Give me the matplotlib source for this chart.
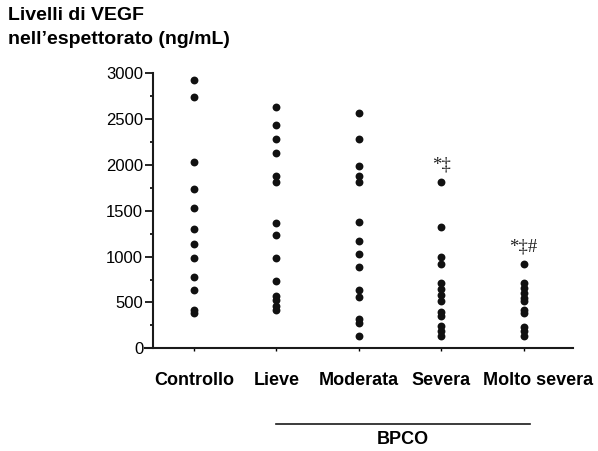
import matplotlib
matplotlib.use("Agg")
import matplotlib.pyplot as plt
from matplotlib.lines import Line2D
from matplotlib.ticker import MultipleLocator
from matplotlib.transforms import ScaledTranslation

plt.rcParams["font.family"] = ["Liberation Sans", "DejaVu Sans"]

CATEGORIES = ["Controllo", "Lieve", "Moderata", "Severa", "Molto severa"]

# VEGF in sputum (ng/mL), one list per group
CONTROLLO = [2930, 2740, 2030, 1740, 1530, 1300, 1135, 985, 775, 636, 420, 385]
LIEVE = [2635, 2435, 2280, 2135, 1885, 1815, 1370, 1240, 985, 730, 570, 530, 460, 420]
MODERATA = [2570, 2280, 1990, 1880, 1815, 1380, 1170, 1030, 885, 640, 560, 325, 275, 135]
SEVERA = [1815, 1320, 995, 925, 710, 645, 580, 520, 395, 350, 240, 190, 130]
MOLTO_SEVERA = [925, 710, 655, 600, 550, 520, 420, 380, 230, 185, 130]
GROUPS = [CONTROLLO, LIEVE, MODERATA, SEVERA, MOLTO_SEVERA]

# significance marks above Severa and Molto severa
MARKS = [(4, 2000, "*\u2021"), (5, 1110, "*\u2021#")]

Y_TICKS = [0, 500, 1000, 1500, 2000, 2500, 3000]

W, H = 598, 451
fig = plt.figure(figsize=(W / 100, H / 100), dpi=100)
ax = fig.add_axes([144.7 / W, 1 - 348.3 / H, 428.3 / W, 275 / H])

for i, vals in enumerate(GROUPS, start=1):
    ax.scatter([i] * len(vals), vals, s=32, color="#111111", linewidths=0, zorder=3)

for x, y, txt in MARKS:
    ax.text(x, y, txt, ha="center", va="center", fontsize=13.5,
            family=["Liberation Serif", "DejaVu Serif"], color="#222222")

ax.set_xlim(0.4, 5.6)
ax.set_ylim(0, 3000)
ax.spines["left"].set_position(("data", 0.5))
ax.spines["top"].set_visible(False)
ax.spines["right"].set_visible(False)
for s in ("left", "bottom"):
    ax.spines[s].set_linewidth(1.5)
    ax.spines[s].set_color("#1a1a1a")

ax.set_yticks(Y_TICKS)
ax.set_yticklabels([str(v) for v in Y_TICKS], fontsize=12)
ax.yaxis.set_minor_locator(MultipleLocator(250))
ax.tick_params(axis="y", which="major", length=5.5, width=1.2, pad=1.5)
ax.tick_params(axis="y", which="minor", length=2, width=1.2)

ax.set_xticks(range(1, len(CATEGORIES) + 1))
ax.set_xticklabels(CATEGORIES, fontsize=13, fontweight="bold")
ax.tick_params(axis="x", length=2, width=1, pad=15)
# the last label sits a bit right of its tick in the original
last = ax.get_xticklabels()[-1]
last.set_transform(last.get_transform() + ScaledTranslation(0.14, 0, fig.dpi_scale_trans))

fig.text(8 / W, 1 - 7 / H, "Livelli di VEGF\nnell\u2019espettorato (ng/mL)",
         ha="left", va="top", fontsize=14, fontweight="bold", linespacing=1.5)

# BPCO bracket under the four disease groups
fig.add_artist(Line2D([276 / W, 530 / W], [1 - 424 / H, 1 - 424 / H],
                      color="#1a1a1a", linewidth=1.2))
fig.text(403 / W, 1 - 439 / H, "BPCO", ha="center", va="center",
         fontsize=13, fontweight="bold")

fig.savefig("out.png", dpi=100)
